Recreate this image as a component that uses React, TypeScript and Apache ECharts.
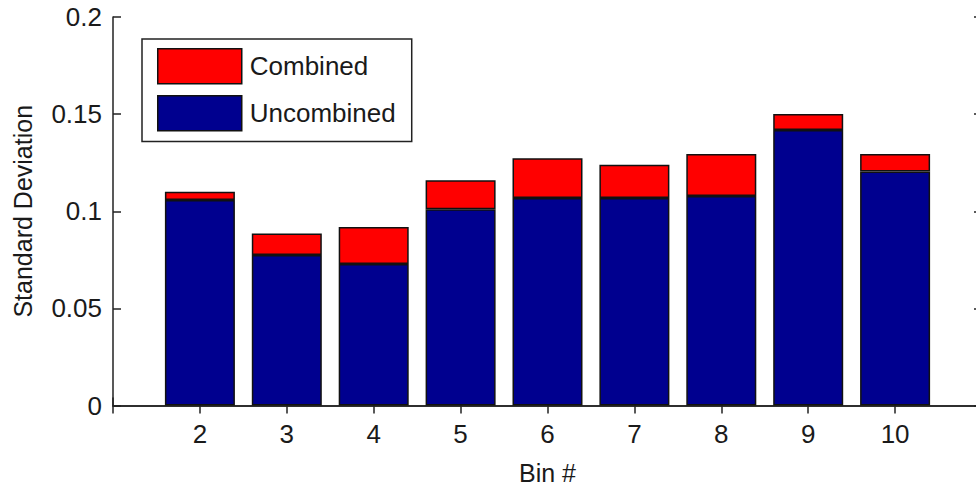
import React, { useEffect, useRef } from "react";
import * as echarts from "echarts";

const bins = [2, 3, 4, 5, 6, 7, 8, 9, 10];
const xLimits = [1, 11];
const uncombined = [0.1058, 0.0775, 0.0728, 0.101, 0.1068, 0.1068, 0.1079, 0.1418, 0.1204];
const combinedExtra = [0.0042, 0.0111, 0.0191, 0.0149, 0.0205, 0.0172, 0.0216, 0.0083, 0.0091];
const yTicks = [0, 0.05, 0.1, 0.15, 0.2];

const FONT = "Liberation Sans";
const TXT = "#1a1a1a";
const FS = 26;

export default function App() {
  const ref = useRef<HTMLDivElement>(null);
  useEffect(() => {
    document.body.style.margin = "0";
    const chart = echarts.init(ref.current!, null, { renderer: "svg" });
    const cats: string[] = [];
    for (let v = xLimits[0]; v <= xLimits[1]; v++) cats.push(String(v));
    const toCat = (arr: number[]) =>
      cats.map((c) => {
        const i = bins.indexOf(Number(c));
        return i >= 0 ? arr[i] : null;
      });
    const axisLine = { show: true, lineStyle: { color: "#222", width: 1.5 } };
    const tickInside = { show: true, inside: true, length: 8, lineStyle: { color: "#222", width: 1.5 } };
    const xCommon = {
      type: "category",
      data: cats,
      boundaryGap: false,
      splitLine: { show: false },
      axisLine,
      axisTick: { ...tickInside, interval: 0 },
    };
    const yCommon = {
      type: "value",
      min: yTicks[0],
      max: yTicks[yTicks.length - 1],
      interval: 0.05,
      splitLine: { show: false },
      axisLine,
      axisTick: tickInside,
    };
    chart.setOption({
      animation: false,
      backgroundColor: "#fff",
      grid: {
        left: 113,
        top: 17,
        right: -6,
        bottom: 81.5,
        containLabel: false,
        outerBoundsMode: "none",
      },
      legend: {
        data: ["Combined", "Uncombined"],
        orient: "vertical",
        left: 142,
        top: 39,
        padding: [9, 16, 10, 15],
        itemWidth: 84,
        itemHeight: 35,
        itemGap: 10.5,
        icon: "rect",
        borderColor: "#222",
        borderWidth: 1.5,
        backgroundColor: "#fff",
        itemStyle: { borderColor: "#111", borderWidth: 1.5 },
        textStyle: { fontFamily: FONT, fontSize: FS, color: TXT, padding: [0, 0, 0, 3] },
      },
      xAxis: [
        {
          ...xCommon,
          position: "bottom",
          name: "Bin #",
          nameLocation: "middle",
          nameGap: 54,
          nameTextStyle: { fontFamily: FONT, fontSize: 25, color: TXT, lineHeight: 26 },
          axisLabel: {
            interval: 0,
            fontFamily: FONT,
            fontSize: FS,
            color: TXT,
            margin: 15,
            formatter: (v: string) => (bins.indexOf(Number(v)) >= 0 ? v : ""),
          },
        },
        {
          ...xCommon,
          position: "top",
          axisLabel: { show: false },
        },
      ],
      yAxis: [
        {
          ...yCommon,
          position: "left",
          name: "Standard Deviation",
          nameLocation: "middle",
          nameGap: 77,
          nameTextStyle: { fontFamily: FONT, fontSize: 25, color: TXT, lineHeight: 26 },
          axisLabel: { fontFamily: FONT, fontSize: FS, color: TXT, margin: 11 },
        },
        {
          ...yCommon,
          position: "right",
          axisLabel: { show: false },
        },
      ],
      series: [
        {
          name: "Uncombined",
          type: "bar",
          stack: "s",
          barWidth: 70,
          data: toCat(uncombined),
          itemStyle: { color: "#00008F", borderColor: "#111", borderWidth: 1.5 },
          z: 3,
        },
        {
          name: "Combined",
          type: "bar",
          stack: "s",
          barWidth: 70,
          data: toCat(combinedExtra),
          itemStyle: { color: "#FF0000", borderColor: "#111", borderWidth: 1.5 },
          z: 3,
        },
      ],
    });
    return () => chart.dispose();
  }, []);
  return <div ref={ref} style={{ width: 976, height: 487 }} />;
}
